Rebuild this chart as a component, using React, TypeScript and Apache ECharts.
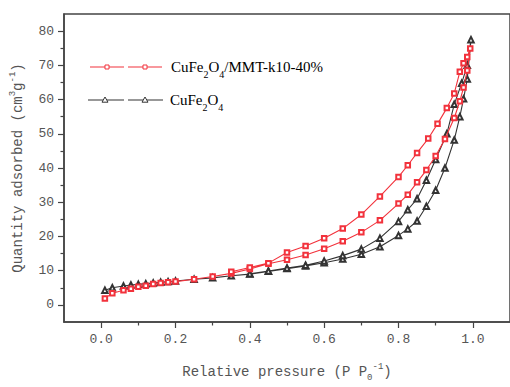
import React, { useEffect, useRef } from "react";
import * as echarts from "echarts";

// CuFe2O4/MMT-k10-40% (red) adsorption then desorption
const redAdsP = [0.01, 0.03, 0.06, 0.08, 0.1, 0.12, 0.14, 0.16, 0.18, 0.2, 0.25, 0.3, 0.35, 0.4, 0.45, 0.5, 0.55, 0.6, 0.65, 0.7, 0.75, 0.8, 0.825, 0.85, 0.875, 0.9, 0.925, 0.95, 0.965, 0.975, 0.985, 0.993];
const redAdsV = [1.9, 3.4, 4.3, 4.7, 5.3, 5.6, 6.1, 6.4, 6.6, 6.8, 7.5, 8.3, 9.2, 10.5, 12.0, 13.2, 14.6, 16.4, 18.6, 21.2, 24.7, 29.6, 32.2, 35.8, 39.4, 43.5, 48.5, 54.6, 59.5, 63.5, 68.5, 74.9];
const redDesP = [0.985, 0.975, 0.965, 0.95, 0.93, 0.905, 0.88, 0.85, 0.825, 0.8, 0.75, 0.7, 0.65, 0.6, 0.55, 0.5, 0.45, 0.4, 0.35];
const redDesV = [72.4, 70.6, 68.1, 61.8, 57.5, 52.9, 48.6, 44.4, 40.8, 37.4, 31.7, 26.4, 22.3, 19.5, 17.2, 15.3, 12.2, 10.9, 9.7];

// CuFe2O4 (black)
const blkAdsP = [0.01, 0.03, 0.06, 0.08, 0.1, 0.12, 0.14, 0.16, 0.18, 0.2, 0.25, 0.3, 0.35, 0.4, 0.45, 0.5, 0.55, 0.6, 0.65, 0.7, 0.75, 0.8, 0.825, 0.85, 0.875, 0.9, 0.925, 0.95, 0.965, 0.975, 0.985, 0.995];
const blkAdsV = [4.3, 5.0, 5.5, 5.8, 6.0, 6.2, 6.4, 6.6, 6.8, 7.0, 7.5, 7.9, 8.5, 9.0, 9.8, 10.6, 11.4, 12.3, 13.4, 14.8, 17.0, 20.3, 22.2, 24.5, 28.8, 33.5, 40.0, 48.2, 55.0, 60.2, 66.0, 77.5];
const blkDesP = [0.985, 0.97, 0.95, 0.93, 0.9, 0.875, 0.85, 0.825, 0.8, 0.75, 0.7, 0.65, 0.6, 0.55, 0.5, 0.45, 0.4];
const blkDesV = [70.0, 64.8, 58.6, 50.0, 42.5, 36.4, 31.0, 27.8, 24.4, 19.5, 16.3, 14.4, 12.8, 11.6, 10.8, 9.9, 9.1];

const xMajorTicks = [0, 0.2, 0.4, 0.6, 0.8, 1.0];
const xMinorTicks = [0.1, 0.3, 0.5, 0.7, 0.9];
const yMajorTicks = [0, 10, 20, 30, 40, 50, 60, 70, 80];
const yMinorTicks = [5, 15, 25, 35, 45, 55, 65, 75];

const RED = "#f2323c";
const BLACK = "#333333";
const MONO = "'Liberation Mono', monospace";
const SERIF = "'Liberation Serif', serif";

function pairs(p: number[], v: number[]) {
  return p.map((x, i) => [x, v[i]]);
}

export default function App() {
  const ref = useRef<HTMLDivElement>(null);
  useEffect(() => {
    if (!ref.current) return;
    const chart = echarts.init(ref.current, null, { renderer: "svg" });
    const gridBox = { left: 58, top: 14, width: 456, height: 320 };
    const axisLine = { onZero: false, lineStyle: { color: "#444", width: 1.5 } };
    const nameRich = {
      a: { fontFamily: MONO, fontSize: 14, color: "#555", lineHeight: 20 },
      s: { fontFamily: MONO, fontSize: 9, color: "#555", verticalAlign: "bottom" as const, lineHeight: 20 },
      p: { fontFamily: MONO, fontSize: 9, color: "#555", verticalAlign: "top" as const, lineHeight: 20 },
    };
    const legRich = (c: string) => ({
      a: { fontFamily: SERIF, fontSize: 15, color: c, lineHeight: 18 },
      s: { fontFamily: SERIF, fontSize: 10, color: c, verticalAlign: "bottom" as const, lineHeight: 18, padding: [0, 0, -3, 0] },
    });
    const tri = (cx: number, cy: number) => ({
      type: "polygon",
      shape: { points: [[cx, cy - 3], [cx - 3, cy + 2.2], [cx + 3, cy + 2.2]] },
      style: { fill: "#fff", stroke: BLACK, lineWidth: 1 },
      z: 101,
    });
    const sq = (cx: number, cy: number) => ({
      type: "rect",
      shape: { x: cx - 2, y: cy - 2, width: 4, height: 4 },
      style: { fill: "#fff", stroke: RED, lineWidth: 1 },
      z: 101,
    });
    const seg = (x1: number, x2: number, y: number, c: string) => ({
      type: "line",
      shape: { x1, y1: y, x2, y2: y },
      style: { stroke: c, lineWidth: 1.2 },
      z: 100,
    });
    chart.setOption({
      animation: false,
      grid: { ...gridBox, show: true, borderColor: "#444", borderWidth: 1.5, backgroundColor: "transparent" },
      xAxis: [
        {
          type: "value",
          min: -0.1,
          max: 1.1,
          interval: 0.1,
          splitLine: { show: false },
          axisLine,
          axisTick: { show: true, inside: false, length: 6, customValues: xMajorTicks, lineStyle: { color: "#444", width: 1.2 } },
          axisLabel: {
            customValues: xMajorTicks,
            formatter: (v: number) => v.toFixed(1),
            fontFamily: MONO,
            fontSize: 13,
            color: "#555",
            margin: 11,
          },
          name: "{a|Relative pressure (P P}{s|0}{p|-1}{a|)}",
          nameLocation: "middle",
          nameGap: 40,
          nameTextStyle: { rich: nameRich },
        },
        {
          type: "value",
          min: -0.1,
          max: 1.1,
          interval: 0.1,
          position: "bottom",
          gridIndex: 0,
          splitLine: { show: false },
          axisLine: { show: false, onZero: false },
          axisTick: { show: true, length: 3.5, customValues: xMinorTicks, lineStyle: { color: "#444", width: 1.2 } },
          axisLabel: { show: false },
        },
      ],
      yAxis: [
        {
          type: "value",
          min: -5,
          max: 85,
          interval: 5,
          splitLine: { show: false },
          axisLine,
          axisTick: { show: true, length: 6, customValues: yMajorTicks, lineStyle: { color: "#444", width: 1.2 } },
          axisLabel: {
            customValues: yMajorTicks,
            fontFamily: MONO,
            fontSize: 13,
            color: "#555",
            margin: 10,
          },
          name: "{a|Quantity adsorbed (cm}{p|3}{a|g}{p|-1}{a|)}",
          nameLocation: "middle",
          nameGap: 36,
          nameRotate: 90,
          nameTextStyle: { rich: nameRich },
        },
        {
          type: "value",
          min: -5,
          max: 85,
          interval: 5,
          position: "left",
          splitLine: { show: false },
          axisLine: { show: false, onZero: false },
          axisTick: { show: true, length: 3.5, customValues: yMinorTicks, lineStyle: { color: "#444", width: 1.2 } },
          axisLabel: { show: false },
        },
      ],
      series: [
        {
          name: "CuFe2O4",
          type: "line",
          data: [...pairs(blkAdsP, blkAdsV), ...pairs(blkDesP, blkDesV)],
          symbol: "emptyTriangle",
          symbolSize: 5.5,
          lineStyle: { color: BLACK, width: 1.1 },
          itemStyle: { color: BLACK, borderWidth: 1 },
          z: 2,
        },
        {
          name: "CuFe2O4/MMT-k10-40%",
          type: "line",
          data: [...pairs(redAdsP, redAdsV), ...pairs(redDesP, redDesV)],
          symbol: "emptyRect",
          symbolSize: 4.5,
          lineStyle: { color: RED, width: 1.1 },
          itemStyle: { color: RED, borderWidth: 1 },
          z: 3,
        },
      ],
      graphic: [
        seg(90, 124, 67, RED),
        seg(128, 162, 67, RED),
        sq(107, 67),
        sq(145, 67),
        {
          type: "text",
          x: 171,
          y: 67,
          z: 102,
          style: {
            text: "{a|CuFe}{s|2}{a|O}{s|4}{a|/MMT-k10-40%}",
            rich: legRich(RED),
            verticalAlign: "middle",
          },
        },
        seg(88, 124, 100, BLACK),
        seg(128, 163, 100, BLACK),
        tri(105, 100),
        tri(145, 100),
        {
          type: "text",
          x: 170,
          y: 100,
          z: 102,
          style: {
            text: "{a|CuFe}{s|2}{a|O}{s|4}",
            rich: legRich(BLACK),
            verticalAlign: "middle",
          },
        },
      ],
    });
    return () => chart.dispose();
  }, []);
  return (
    <div
      ref={ref}
      style={{ position: "fixed", left: 0, top: 0, width: 510, height: 387, background: "#fff" }}
    />
  );
}
